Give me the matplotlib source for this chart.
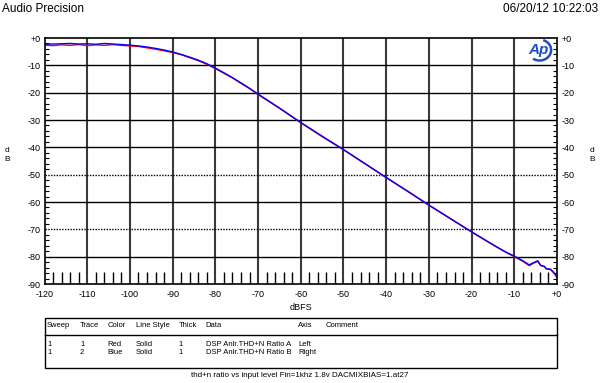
import matplotlib
matplotlib.use("Agg")
import matplotlib.pyplot as plt
from matplotlib.patches import Rectangle, Arc
from matplotlib.lines import Line2D
from matplotlib.ticker import MultipleLocator, FuncFormatter

plt.rcParams['font.family'] = ['Liberation Sans', 'DejaVu Sans']

# input level (dBFS) and THD+N ratio (dB)
level = [-120, -118, -116, -114, -112, -110, -108, -106, -104, -102, -100, -98, -96, -94, -92,
         -90, -88, -86, -84, -82, -80, -78, -76, -74, -72, -70, -65, -60, -55, -50, -45, -40,
         -35, -30, -25, -20, -15, -12, -10, -8, -6.5, -5.5, -4.5, -3.8, -3, -2.5, -1.5, -1, -0.5, 0]
thdn_a = [-2.6, -2.8, -2.5, -2.7, -2.4, -2.8, -2.5, -2.7, -2.4, -2.7, -2.9, -3.1, -3.6, -4.1, -4.7,
          -5.3, -6.1, -7.2, -8.3, -9.6, -11.2, -12.9, -14.6, -16.6, -18.5, -20.7, -25.7, -31.0, -36.1, -40.9, -46.0, -51.1,
          -56.1, -61.2, -66.1, -71.0, -75.7, -78.4, -80.0, -81.7, -83.3, -82.4, -81.7, -83.3, -83.6, -84.5, -84.7, -85.5, -86.4, -87.6]
thdn_b = [-2.3, -2.2, -2.1, -2.0, -2.2, -2.1, -2.3, -2.0, -2.2, -2.4, -2.6, -2.9, -3.3, -3.8, -4.4,
          -5.1, -6.0, -7.0, -8.1, -9.4, -11.0, -12.7, -14.5, -16.4, -18.4, -20.5, -25.6, -30.9, -35.9, -40.8, -45.9, -51.0,
          -56.0, -61.1, -66.0, -70.9, -75.6, -78.3, -79.8, -81.5, -83.0, -82.2, -81.5, -83.2, -83.5, -84.4, -84.6, -85.4, -86.3, -87.5]

headers = ['Sweep', 'Trace', 'Color', 'Line Style', 'Thick', 'Data', 'Axis', 'Comment']
rows = [['1', '1', 'Red', 'Solid', '1', 'DSP Anlr.THD+N Ratio A', 'Left', ''],
        ['1', '2', 'Blue', 'Solid', '1', 'DSP Anlr.THD+N Ratio B', 'Right', '']]
col_px = [47, 80, 107.7, 135.7, 178.3, 205.7, 298.3, 326]

W, H = 600, 383
fig = plt.figure(figsize=(6, 3.83), dpi=100)
ax = fig.add_axes([44.5 / W, 1 - 284 / H, 512.5 / W, 246 / H])

ax.plot(level, thdn_a, color='#ff0000', lw=1.0)
ax.plot(level, thdn_b, color='#0000ff', lw=1.0)

ax.set_xlim(-120, 0)
ax.set_ylim(-90, 0)

# grid
for x in range(-110, 0, 10):
    ax.axvline(x, color='#3a3a3a', lw=1.5, zorder=0)
for y in range(-80, 0, 10):
    ls = (0, (1, 1)) if y in (-70, -50) else '-'
    ax.axhline(y, color='black', lw=1.0, ls=ls, zorder=0)

for s in ax.spines.values():
    s.set_linewidth(1.2)

fmt = FuncFormatter(lambda v, p: '+0' if v == 0 else f'{v:.0f}')
ax.xaxis.set_major_locator(MultipleLocator(10))
ax.yaxis.set_major_locator(MultipleLocator(10))
ax.xaxis.set_major_formatter(fmt)
ax.yaxis.set_major_formatter(fmt)
ax.xaxis.set_minor_locator(MultipleLocator(2))
ax.yaxis.set_minor_locator(MultipleLocator(2))
ax.tick_params(axis='x', which='major', length=0, labelsize=6.5, pad=4)
ax.tick_params(axis='x', which='minor', direction='in', length=9, width=1, top=False)
ax.tick_params(axis='y', which='major', length=0, labelsize=6.5, pad=3,
               left=True, right=True, labelleft=True, labelright=True)
ax.tick_params(axis='y', which='minor', direction='in', length=3, width=0.8, left=True, right=True)

ax.set_xlabel('dBFS', fontsize=6.5, labelpad=3)

# logo
ax.text(0.963, 0.951, 'Ap', transform=ax.transAxes, color='#1f4fc4', fontsize=11,
        fontweight='bold', fontstyle='italic', ha='center', va='center')
ax.add_patch(Arc((0.966, 0.951), 0.045, 0.085, theta1=-110, theta2=80, transform=ax.transAxes,
                 color='#1f4fc4', lw=1.8))

fig.text(2 / W, 1 - 9 / H, 'Audio Precision', fontsize=8.5, va='center', ha='left')
fig.text(598 / W, 1 - 9 / H, '06/20/12 10:22:03', fontsize=8.5, va='center', ha='right')
fig.text(7 / W, 1 - 155 / H, 'd\nB', fontsize=6, va='center', ha='center', linespacing=1.3)
fig.text(592 / W, 1 - 155 / H, 'd\nB', fontsize=6, va='center', ha='center', linespacing=1.3)

# legend table
fig.add_artist(Rectangle((45.3 / W, 1 - 367.7 / H), 511.7 / W, 50 / H, transform=fig.transFigure,
                         fill=False, edgecolor='black', lw=1))
fig.add_artist(Line2D([45.3 / W, 557 / W], [1 - 335 / H, 1 - 335 / H], transform=fig.transFigure,
                      color='black', lw=1))
for xp, h in zip(col_px, headers):
    fig.text(xp / W, 1 - 325.7 / H, h, fontsize=5.5, va='center', ha='left')
for yp, row in zip([344.3, 352.3], rows):
    for xp, v in zip(col_px, row):
        fig.text(xp / W, 1 - yp / H, v, fontsize=5.5, va='center', ha='left')

fig.text(0.5, 1 - 375.7 / H, 'thd+n ratio vs input level Fin=1khz 1.8v DACMIXBIAS=1.at27',
         fontsize=5.8, va='center', ha='center')

fig.savefig('out.png', dpi=100)
